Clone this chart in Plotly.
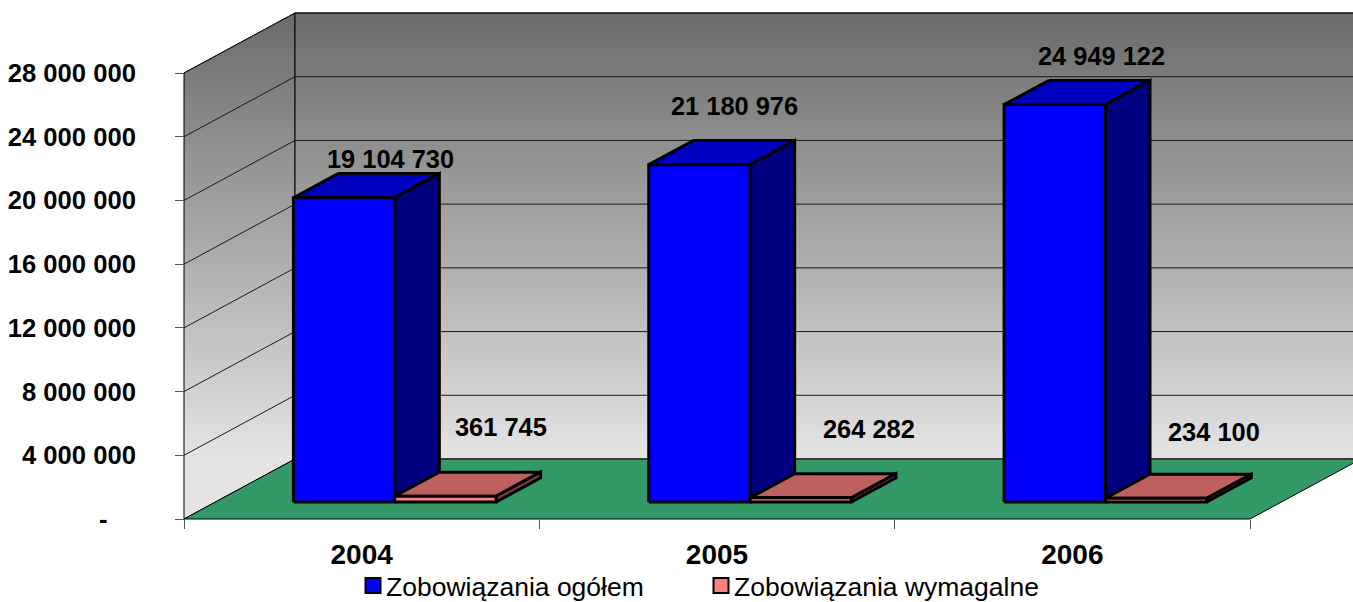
import plotly.graph_objects as go

# ---- data ----
years = ["2004", "2005", "2006"]
ogolem = [19104730, 21180976, 24949122]
wymagalne = [361745, 264282, 234100]
series_names = ["Zobowiązania ogółem", "Zobowiązania wymagalne"]
y_ticks = [0, 4000000, 8000000, 12000000, 16000000, 20000000, 24000000, 28000000]
y_ticktext = ["-\u00a0\u00a0\u00a0\u00a0", "4 000 000", "8 000 000", "12 000 000", "16 000 000",
              "20 000 000", "24 000 000", "28 000 000"]

# ---- label nudges, in pixels, relative to the front-top centre of each bar ----
label_nudge_1 = [(46, 39), (35.5, 59), (47, 49)]
label_nudge_2 = [(56, 69), (68, 69), (58, 66)]

# ---- oblique projection ----
W, H = 1353, 602
X0_PX, Y0_PX = 184, 519
CAT_PX = (1250 - 184) / 3
VAL_PER_PX = 28000000 / 446
DEPTH_X = 111 / CAT_PX
DEPTH_Y = 60 * VAL_PER_PX
Y_MAX = y_ticks[-1]
BAR_W = 101.3 / CAT_PX
GAP = 78 / CAT_PX
D_FRONT, D_BACK = 0.283, 0.685


def proj(x, v, d):
    return x + d * DEPTH_X, v + d * DEPTH_Y


def poly(pts, fill=None, line="black", width=1, **kw):
    xs = [proj(*p)[0] for p in pts] + [proj(*pts[0])[0]]
    ys = [proj(*p)[1] for p in pts] + [proj(*pts[0])[1]]
    args = dict(x=xs, y=ys, mode="lines", line=dict(color=line, width=width),
                showlegend=False, hoverinfo="skip")
    if fill or kw:
        args["fill"] = "toself"
    if fill:
        args["fillcolor"] = fill
    args.update(kw)
    return go.Scatter(**args)


GRAD = dict(type="vertical", start=DEPTH_Y, stop=Y_MAX + DEPTH_Y,
            colorscale=[[0, "#e4e4e4"], [1, "#6b6b6b"]])

fig = go.Figure()

# walls
fig.add_trace(poly([(0, 0, 0), (0, Y_MAX, 0), (0, Y_MAX, 1), (0, 0, 1)], fillgradient=GRAD))
fig.add_trace(poly([(0, 0, 1), (0, Y_MAX, 1), (3, Y_MAX, 1), (3, 0, 1)], fillgradient=GRAD))

# gridlines on the walls
gx, gy = [], []
for v in y_ticks[1:]:
    for p in [(0, v, 0), (0, v, 1), (3, v, 1)]:
        px_, py_ = proj(*p)
        gx.append(px_)
        gy.append(py_)
    gx.append(None)
    gy.append(None)
fig.add_trace(go.Scatter(x=gx, y=gy, mode="lines", line=dict(color="#1a1a1a", width=1),
                         showlegend=False, hoverinfo="skip"))

# floor
fig.add_trace(poly([(0, 0, 0), (3, 0, 0), (3, 0, 1), (0, 0, 1)], fill="#339966"))


def box(x, v, front, side, top):
    x2 = x + BAR_W
    f, b = D_FRONT, D_BACK
    lw = 3
    fig.add_trace(poly([(x, v, b), (x2, v, b), (x2, v, f), (x, v, f)], fill=top, width=lw))
    fig.add_trace(poly([(x2, 0, f), (x2, v, f), (x2, v, b), (x2, 0, b)], fill=side, width=lw))
    fig.add_trace(poly([(x, 0, f), (x, v, f), (x2, v, f), (x2, 0, f)], fill=front, width=lw))


for i in range(len(years)):
    x1 = i + GAP
    box(x1, ogolem[i], "#0000ff", "#000080", "#0000c0")
    box(x1 + BAR_W, wymagalne[i], "#ff8080", "#804040", "#bf6060")

# legend entries
for name, col in zip(series_names, ["#0000ff", "#ff8080"]):
    fig.add_trace(go.Scatter(x=[None], y=[None], mode="markers", name=name,
                             marker=dict(symbol="square", size=15, color=col,
                                         line=dict(color="black", width=2))))

# data labels
ann = []
for s, (vals, nudges) in enumerate([(ogolem, label_nudge_1), (wymagalne, label_nudge_2)]):
    for i, v in enumerate(vals):
        cx = i + GAP + BAR_W * (s + 0.5)
        ax_, ay_ = proj(cx, v, D_FRONT)
        txt = f"{v:,}".replace(",", " ")
        ann.append(dict(x=ax_, y=ay_, xref="x", yref="y", text=f"<b>{txt}</b>", showarrow=False,
                        xshift=nudges[i][0], yshift=nudges[i][1],
                        font=dict(family="Liberation Sans", size=25.4, color="black")))

x_lo = -X0_PX / CAT_PX
x_hi = (W - X0_PX) / CAT_PX
y_lo = -(H - Y0_PX) * VAL_PER_PX
y_hi = Y0_PX * VAL_PER_PX

fig.update_layout(
    width=W, height=H, margin=dict(l=0, r=0, t=0, b=0, pad=0, autoexpand=False),
    paper_bgcolor="white", plot_bgcolor="white",
    font=dict(family="Liberation Sans", color="black"),
    annotations=ann,
    hovermode=False,
    xaxis=dict(range=[x_lo, x_hi], domain=[0, 1], anchor="free", position=(H - Y0_PX) / H,
               showgrid=False, zeroline=False, showline=False, ticks="",
               tickmode="array", tickvals=[0.5, 1.5, 2.5], ticktext=[f"<b>{y}</b>" for y in years],
               tickfont=dict(family="Liberation Sans", size=28, color="black"),
               ticklabelstandoff=16,
               minor=dict(ticks="outside", tickmode="array", tickvals=[0, 1, 2, 3], ticklen=9,
                          tickcolor="#555555", tickwidth=1, showgrid=False)),
    yaxis=dict(range=[y_lo, y_hi], domain=[0, 1], anchor="free", position=X0_PX / W,
               showgrid=False, zeroline=False, showline=False,
               ticks="outside", ticklen=9, tickcolor="#555555", tickwidth=1,
               tickmode="array", tickvals=y_ticks, ticktext=[f"<b>{t}</b>" for t in y_ticktext],
               tickfont=dict(family="Liberation Sans", size=25.6, color="black"),
               ticklabelstandoff=34),
    legend=dict(orientation="h", x=346 / W, xanchor="left", y=-0.013, yanchor="bottom",
                entrywidth=303, entrywidthmode="pixels",
                font=dict(family="Liberation Sans", size=26.5, color="black"),
                bgcolor="rgba(0,0,0,0)", itemclick=False, itemdoubleclick=False),
)

fig.write_html("out.html", config={"displayModeBar": False},
               post_script="document.body.style.margin='0';"
                           "document.querySelectorAll('.legendsymbols').forEach("
                           "e=>e.setAttribute('transform','translate(7,0)'));")
